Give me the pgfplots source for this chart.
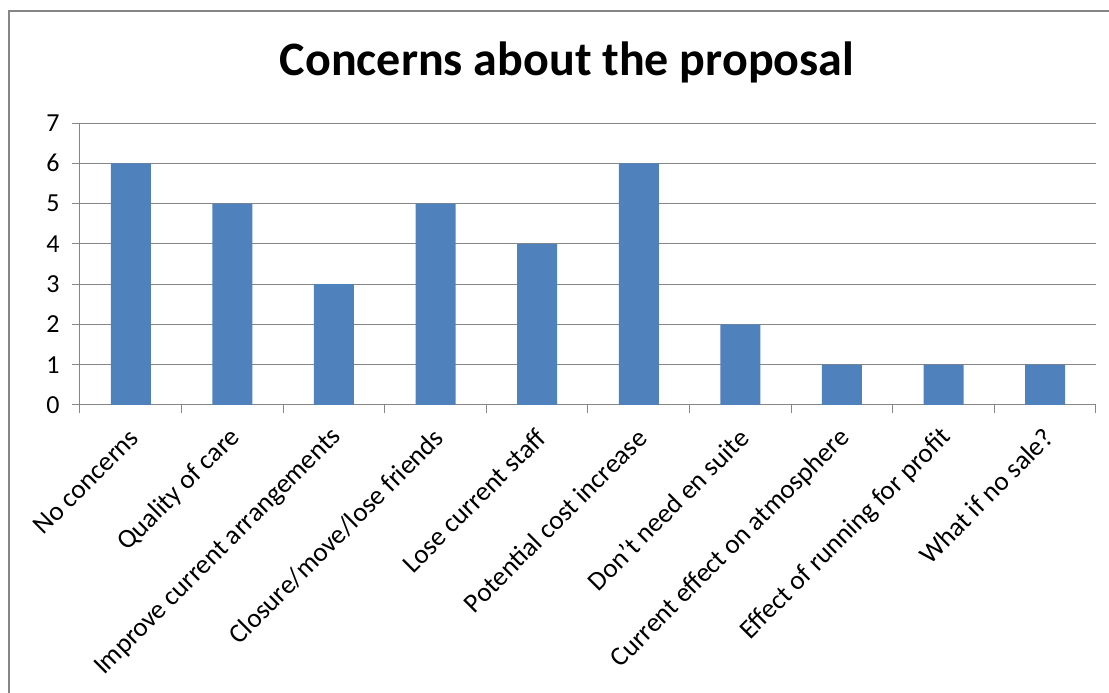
\documentclass[border=0pt]{standalone}
\usepackage{pgfplots}
\pgfplotsset{compat=1.18}
\usepackage{fontspec}
\setmainfont{Carlito}
\definecolor{barblue}{HTML}{4F81BD}
\definecolor{axgray}{HTML}{868686}
\begin{document}
\begin{tikzpicture}[x=1pt,y=1pt]
\path[use as bounding box] (0,0) rectangle (1109,693);
\draw[axgray, line width=2.5pt] (9,0) -- (9,682) -- (1109,682);
\begin{axis}[
  at={(80pt,288pt)}, anchor=south west,
  scale only axis, width=1016pt, height=282pt,
  xmin=-0.5, xmax=9.5, ymin=0, ymax=7,
  axis lines*=left,
  axis line style={axgray, line width=1pt},
  ytick={0,...,7},
  ymajorgrids, grid style={axgray, line width=1pt},
  xtick={0,...,9},
  xticklabels={No concerns, Quality of care, Improve current arrangements, Closure/move/lose friends, Lose current staff, Potential cost increase, Don't need en suite, Current effect on atmosphere, Effect of running for profit, What if no sale?},
  minor xtick={-0.5,0.5,...,9.5},
  major x tick style={draw=none},
  tick align=outside,
  tick style={axgray, line width=1pt},
  major tick length=8pt, minor tick length=8pt,
  xticklabel style={anchor=east, xshift=6pt, yshift=-18pt, rotate=45, font=\fontsize{27}{31}\selectfont},
  yticklabel style={font=\fontsize{26}{30}\selectfont, xshift=-9pt},
  /pgf/number format/assume math mode=true,
  ybar, bar width=40pt,
]
\addplot[fill=barblue, draw=none] coordinates {(0,6) (1,5) (2,3) (3,5) (4,4) (5,6) (6,2) (7,1) (8,1) (9,1)};
\end{axis}
\node[font=\fontsize{48}{56}\selectfont\bfseries] at (567,631) {Concerns about the proposal};
\end{tikzpicture}
\end{document}
